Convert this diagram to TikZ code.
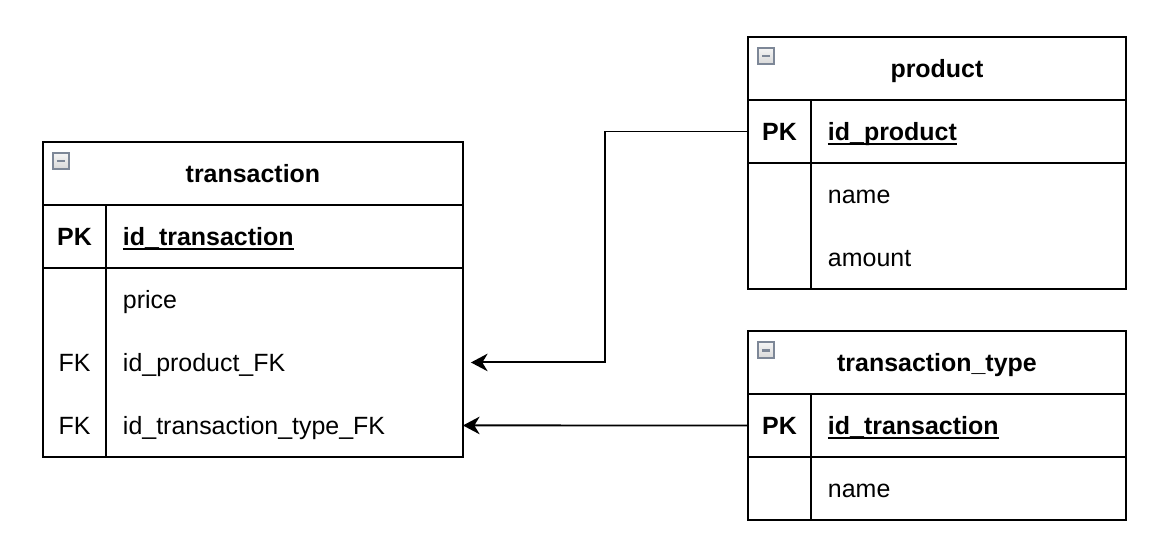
\documentclass[tikz,border=0pt]{standalone}
\usepackage{fontspec}
\setmainfont{Liberation Sans}
\usetikzlibrary{positioning, arrows.meta, calc}

\definecolor{IconEdge}{HTML}{7D8797}
\newcommand{\pkname}[1]{\setbox0\hbox{#1}\rlap{\rule[-2.6pt]{\wd0}{1.1pt}}\box0}

\begin{document}
\begin{tikzpicture}[
  x=0.02cm, y=-0.02cm,
  font=\fontsize{14.2}{17}\selectfont,
  every node/.style={outer sep=0pt},
  frame/.style={draw, line width=1.1pt},
  hdr/.style={frame, inner sep=0pt, minimum height=1.26cm, text height=10.2pt, text depth=0pt, anchor=north west, font=\fontsize{14.2}{17}\selectfont\bfseries},
  keyc/.style={inner sep=0pt, minimum width=1.26cm, minimum height=1.26cm, text height=10.2pt, text depth=0pt, anchor=north west},
  namec/.style={inner xsep=0.34cm, inner ysep=0pt, minimum height=1.26cm, text height=10.2pt, text depth=0pt, align=left, anchor=north west},
  ico/.style={draw=IconEdge, top color=gray!8, bottom color=gray!30, line width=1pt, minimum size=0.32cm, inner sep=0pt, anchor=north west,
    path picture={\draw[line width=1.7pt] ([xshift=0.08cm]path picture bounding box.west) -- ([xshift=-0.08cm]path picture bounding box.east);}},
  fk/.style={draw, line width=1.1pt, -{Stealth[length=9.5pt, width=10pt, inset=3pt]}},
]
  \useasboundingbox (0,0) rectangle (1173,552);

  % transaction
  \node[hdr, minimum width=8.4cm] (t-head) at (43,142) {transaction};
  \node[ico] (t-ico) at (53,153) {};
  \node[keyc, frame, font=\fontsize{14.2}{17}\selectfont\bfseries] (t-pkk) at (t-head.south west) {PK};
  \node[namec, frame, text width=6.46cm, font=\fontsize{14.2}{17}\selectfont\bfseries] (t-pk) at (t-pkk.north east) {\pkname{id\_transaction}};
  \node[keyc] (t-k1) at (t-pkk.south west) {};
  \node[keyc, below=0pt of t-k1] (t-k2) {FK};
  \node[keyc, below=0pt of t-k2] (t-k3) {FK};
  \node[namec, text width=6.46cm] (t-a1) at (t-k1.north east) {price};
  \node[namec, text width=6.46cm, below=0pt of t-a1] (t-a2) {id\_product\_FK};
  \node[namec, text width=6.46cm, below=0pt of t-a2] (t-a3) {id\_transaction\_type\_FK};
  \draw[frame] (t-k1.north west) rectangle (t-k3.south east);
  \draw[frame] (t-a1.north west) rectangle (t-a3.south east);

  % product
  \node[hdr, minimum width=7.56cm] (p-head) at (748,37) {product};
  \node[ico] (p-ico) at (758,48) {};
  \node[keyc, frame, font=\fontsize{14.2}{17}\selectfont\bfseries] (p-pkk) at (p-head.south west) {PK};
  \node[namec, frame, text width=5.62cm, font=\fontsize{14.2}{17}\selectfont\bfseries] (p-pk) at (p-pkk.north east) {\pkname{id\_product}};
  \node[keyc] (p-k1) at (p-pkk.south west) {};
  \node[keyc, below=0pt of p-k1] (p-k2) {};
  \node[namec, text width=5.62cm] (p-a1) at (p-k1.north east) {name};
  \node[namec, text width=5.62cm, below=0pt of p-a1] (p-a2) {amount};
  \draw[frame] (p-k1.north west) rectangle (p-k2.south east);
  \draw[frame] (p-a1.north west) rectangle (p-a2.south east);

  % transaction_type
  \node[hdr, minimum width=7.56cm] (y-head) at (748,331) {transaction\_type};
  \node[ico] (y-ico) at (758,342) {};
  \node[keyc, frame, font=\fontsize{14.2}{17}\selectfont\bfseries] (y-pkk) at (y-head.south west) {PK};
  \node[namec, frame, text width=5.62cm, font=\fontsize{14.2}{17}\selectfont\bfseries] (y-pk) at (y-pkk.north east) {\pkname{id\_transaction}};
  \node[keyc] (y-k1) at (y-pkk.south west) {};
  \node[namec, text width=5.62cm] (y-a1) at (y-k1.north east) {name};
  \draw[frame] (y-k1.north west) rectangle (y-k1.south east);
  \draw[frame] (y-a1.north west) rectangle (y-a1.south east);

  % links
  \coordinate (t-a2-in) at ($(t-a2.east)+(8,0)$);
  \draw[fk] (p-pkk.west) -- ++(-143,0) |- (t-a2-in);
  \draw[fk] (y-pkk.west) -- (t-a3.east);
\end{tikzpicture}
\end{document}
